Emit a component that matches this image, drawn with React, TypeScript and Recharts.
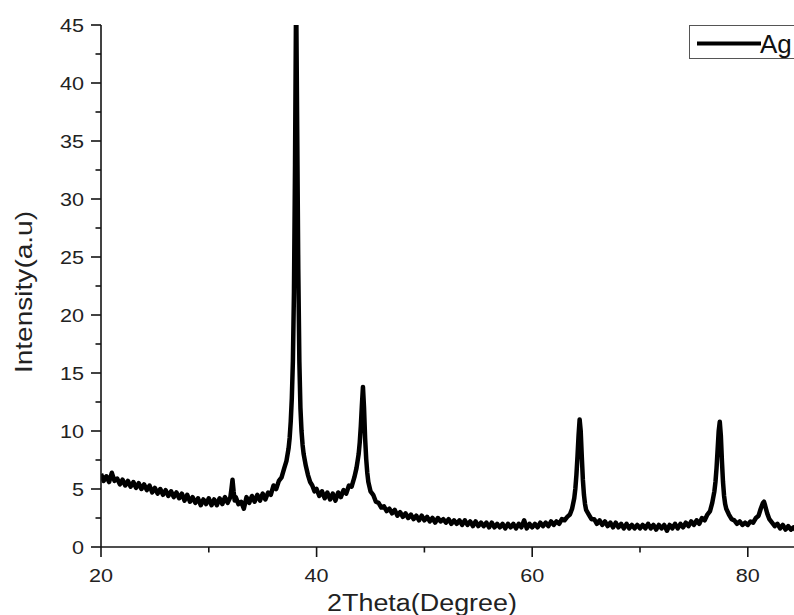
import { LineChart, Line, XAxis, YAxis, Legend, Label } from 'recharts';

// 2Theta positions (degree)
const theta = [
  20, 20.25, 20.5, 20.75, 21, 21.25, 21.5, 21.75, 22, 22.25, 22.5, 22.75,
  23, 23.25, 23.5, 23.75, 24, 24.25, 24.5, 24.75, 25, 25.25, 25.5, 25.75,
  26, 26.25, 26.5, 26.75, 27, 27.25, 27.5, 27.75, 28, 28.25, 28.5, 28.75,
  29, 29.25, 29.5, 29.75, 30, 30.25, 30.5, 30.75, 31, 31.25, 31.5, 31.75,
  32, 32.1, 32.2, 32.3, 32.4, 32.5, 32.75, 33, 33.25, 33.5, 33.75,
  34, 34.25, 34.5, 34.75, 35, 35.25, 35.5, 35.75, 36, 36.25, 36.5, 36.75,
  37, 37.2, 37.4, 37.5, 37.6, 37.7, 37.8, 37.9, 38, 38.1, 38.2, 38.3, 38.4,
  38.5, 38.6, 38.7, 38.8, 39, 39.2, 39.4, 39.6, 39.8,
  40, 40.25, 40.5, 40.75, 41, 41.25, 41.5, 41.75, 42, 42.25, 42.5, 42.75,
  43, 43.25, 43.5, 43.7, 43.9, 44, 44.1, 44.2, 44.3, 44.4, 44.5, 44.6, 44.7, 44.8,
  45, 45.25, 45.5, 45.75, 46, 46.25, 46.5, 46.75, 47, 47.25, 47.5, 47.75,
  48, 48.25, 48.5, 48.75, 49, 49.25, 49.5, 49.75, 50, 50.25, 50.5, 50.75,
  51, 51.25, 51.5, 51.75, 52, 52.25, 52.5, 52.75, 53, 53.25, 53.5, 53.75,
  54, 54.25, 54.5, 54.75, 55, 55.25, 55.5, 55.75, 56, 56.25, 56.5, 56.75,
  57, 57.25, 57.5, 57.75, 58, 58.25, 58.5, 58.75, 59, 59.25, 59.5, 59.75,
  60, 60.25, 60.5, 60.75, 61, 61.25, 61.5, 61.75, 62, 62.25, 62.5, 62.75,
  63, 63.25, 63.5, 63.7, 63.9, 64, 64.1, 64.2, 64.3, 64.4, 64.5, 64.6, 64.7, 64.8, 64.9,
  65, 65.25, 65.5, 65.75, 66, 66.25, 66.5, 66.75, 67, 67.25, 67.5, 67.75,
  68, 68.25, 68.5, 68.75, 69, 69.25, 69.5, 69.75, 70, 70.25, 70.5, 70.75,
  71, 71.25, 71.5, 71.75, 72, 72.25, 72.5, 72.75, 73, 73.25, 73.5, 73.75,
  74, 74.25, 74.5, 74.75, 75, 75.25, 75.5, 75.75, 76, 76.25, 76.5, 76.7, 76.9,
  77, 77.1, 77.2, 77.3, 77.4, 77.5, 77.6, 77.7, 77.8, 77.9,
  78, 78.25, 78.5, 78.75, 79, 79.25, 79.5, 79.75, 80, 80.25, 80.5, 80.75,
  81, 81.2, 81.4, 81.5, 81.6, 81.8, 82, 82.25, 82.5, 82.75,
  83, 83.25, 83.5, 83.75, 84, 84.25, 84.5, 84.75, 85,
];

// Intensity (a.u), same order as theta
const intensity = [
  6.3, 5.7, 6.1, 5.6, 6.4, 5.7, 5.9, 5.4, 5.8, 5.3, 5.7, 5.2,
  5.6, 5.1, 5.5, 5.0, 5.4, 4.9, 5.3, 4.7, 5.1, 4.6, 5.0, 4.5,
  4.9, 4.4, 4.8, 4.3, 4.7, 4.2, 4.6, 4.0, 4.5, 3.9, 4.3, 3.8,
  4.2, 3.6, 4.1, 3.7, 4.2, 3.6, 4.1, 3.6, 4.2, 3.7, 4.3, 3.8,
  4.3, 5.0, 5.8, 4.8, 4.0, 4.3, 3.7, 3.9, 3.3, 4.3, 3.8,
  4.4, 3.9, 4.5, 4.0, 4.6, 4.1, 4.7, 4.5, 5.3, 5.0, 5.7, 6.0,
  6.8, 7.4, 8.5, 9.4, 10.8, 12.8, 16.0, 22.0, 33.0, 48.0, 36.0, 24.0, 16.0,
  12.0, 10.0, 8.8, 8.0, 7.0, 6.2, 5.6, 5.3, 4.8,
  5.0, 4.4, 4.8, 4.2, 4.7, 4.1, 4.6, 4.0, 4.7, 4.3, 4.9, 4.6,
  5.3, 5.2, 6.0, 6.8, 8.0, 9.0, 10.4, 12.2, 13.8, 12.0, 9.4, 7.6, 6.4, 5.6,
  4.8, 4.5, 3.9, 3.8, 3.4, 3.5, 3.1, 3.3, 2.9, 3.2, 2.7, 3.0,
  2.6, 2.9, 2.5, 2.8, 2.4, 2.7, 2.3, 2.7, 2.3, 2.6, 2.2, 2.5,
  2.1, 2.5, 2.2, 2.4, 2.1, 2.4, 2.0, 2.3, 2.0, 2.3, 1.9, 2.3,
  1.9, 2.2, 1.8, 2.2, 1.8, 2.1, 1.8, 2.1, 1.7, 2.1, 1.7, 2.0,
  1.7, 2.0, 1.6, 2.0, 1.7, 2.0, 1.6, 2.0, 1.7, 2.3, 1.6, 2.0,
  1.7, 2.0, 1.7, 2.1, 1.8, 2.1, 1.8, 2.2, 1.9, 2.2, 2.0, 2.4,
  2.3, 2.6, 2.8, 3.3, 4.2, 5.0, 6.2, 7.8, 9.6, 11.0, 10.0, 7.8, 5.8, 4.5, 3.7,
  3.2, 2.8, 2.4, 2.4, 2.0, 2.3, 1.9, 2.2, 1.8, 2.1, 1.7, 2.1,
  1.7, 2.0, 1.6, 2.0, 1.6, 1.9, 1.6, 1.9, 1.6, 1.9, 1.6, 2.0,
  1.6, 1.9, 1.5, 1.9, 1.6, 1.9, 1.4, 1.9, 1.6, 2.0, 1.6, 2.0,
  1.7, 2.1, 1.8, 2.2, 1.9, 2.3, 2.0, 2.5, 2.3, 2.8, 3.1, 3.8, 4.8,
  5.6, 6.8, 8.4, 10.0, 10.8, 9.6, 7.4, 5.6, 4.4, 3.7,
  3.3, 2.8, 2.4, 2.3, 2.0, 2.2, 1.9, 2.1, 1.9, 2.2, 2.1, 2.5,
  2.7, 3.3, 3.8, 3.9, 3.6, 2.9, 2.4, 2.1, 1.8, 2.0,
  1.6, 1.9, 1.5, 1.8, 1.5, 1.7, 1.4, 1.7, 1.5,
];

const xTicks = [20, 30, 40, 50, 60, 70, 80];
const yTicks = [0, 2.5, 5, 7.5, 10, 12.5, 15, 17.5, 20, 22.5, 25, 27.5, 30, 32.5, 35, 37.5, 40, 42.5, 45];
const seriesName = 'Ag';

const data = theta.map((t, i) => ({ theta: t, intensity: intensity[i] }));

const INK = '#141414';
const TEXT = '#222';
const FONT = '"Liberation Sans", Arial, sans-serif';

const BottomTick = ({ x, y, payload }: any) => {
  const major = payload.value % 20 === 0;
  return (
    <g>
      <line x1={x} x2={x} y1={y} y2={y + (major ? 10 : 5.5)} stroke={INK} strokeWidth={1.6} />
      {major && (
        <text transform={`translate(${x},${y + 35}) scale(1.2,1)`} textAnchor="middle"
          fontSize={18} fontFamily={FONT} fill={TEXT}>{payload.value}</text>
      )}
    </g>
  );
};

const TopTick = ({ x, y, payload }: any) => {
  const major = payload.value % 20 === 0;
  return <line x1={x} x2={x} y1={y} y2={y - (major ? 10 : 5.5)} stroke={INK} strokeWidth={1.6} />;
};

const LeftTick = ({ x, y, payload }: any) => {
  const major = payload.value % 5 === 0;
  return (
    <g>
      <line x1={x - (major ? 10 : 5.5)} x2={x} y1={y} y2={y} stroke={INK} strokeWidth={1.6} />
      {major && (
        <text transform={`translate(${x - 17},${y + 6.5}) scale(1.2,1)`} textAnchor="end"
          fontSize={18} fontFamily={FONT} fill={TEXT}>{payload.value}</text>
      )}
    </g>
  );
};

const XTitle = ({ viewBox }: any) => (
  <text transform={`translate(${viewBox.x + 321},${viewBox.y + 64}) scale(1.17,1)`} textAnchor="middle"
    fontSize={23} fontFamily={FONT} fill={TEXT}>2Theta(Degree)</text>
);

const YTitle = ({ viewBox }: any) => (
  <text transform={`translate(${viewBox.x + 32},${viewBox.y + viewBox.height / 2 + 6}) rotate(-90) scale(1.22,1)`}
    textAnchor="middle" fontSize={23} fontFamily={FONT} fill={TEXT}>Intensity(a.u)</text>
);

const LegendBox = () => (
  <div style={{ width: 140, height: 34, border: '1px solid #555', background: '#fff', boxSizing: 'border-box' }}>
    <svg width={140} height={32}>
      <line x1={7} x2={71} y1={17.5} y2={17.5} stroke="#000" strokeWidth={4} />
      <text x={70} y={27} fontSize={26} fontFamily={FONT} fill="#111">{seriesName}</text>
    </svg>
  </div>
);

export default function App() {
  return (
    <div style={{ position: 'fixed', left: 0, top: 0, width: 794, height: 615, overflow: 'hidden', background: '#fff' }}>
      <LineChart width={900} height={615} data={data} margin={{ top: 25, right: 98.3, bottom: 0, left: 0 }}>
        <XAxis
          dataKey="theta"
          type="number"
          domain={[20, 85]}
          allowDataOverflow
          ticks={xTicks}
          interval={0}
          height={68}
          tickSize={0}
          tickMargin={0}
          tickLine={false}
          tick={<BottomTick />}
          axisLine={{ stroke: INK, strokeWidth: 1.6 }}
        >
          <Label content={<XTitle />} />
        </XAxis>
        <XAxis
          xAxisId="top"
          orientation="top"
          dataKey="theta"
          type="number"
          domain={[20, 85]}
          allowDataOverflow
          ticks={xTicks}
          interval={0}
          height={0}
          tickSize={0}
          tickMargin={0}
          tickLine={false}
          tick={<TopTick />}
          axisLine={{ stroke: INK, strokeWidth: 1.6 }}
        />
        <YAxis
          type="number"
          domain={[0, 45]}
          allowDataOverflow
          ticks={yTicks}
          interval={0}
          width={101}
          tickSize={0}
          tickMargin={0}
          tickLine={false}
          tick={<LeftTick />}
          axisLine={{ stroke: INK, strokeWidth: 1.6 }}
        >
          <Label content={<YTitle />} />
        </YAxis>
        <Legend
          layout="vertical"
          align="center"
          verticalAlign="middle"
          wrapperStyle={{ left: 689, top: 25, width: 140 }}
          content={<LegendBox />}
        />
        <Line
          type="linear"
          dataKey="intensity"
          name={seriesName}
          stroke="#000"
          strokeWidth={4.5}
          strokeLinejoin="round"
          dot={false}
          activeDot={false}
          isAnimationActive={false}
        />
      </LineChart>
    </div>
  );
}
